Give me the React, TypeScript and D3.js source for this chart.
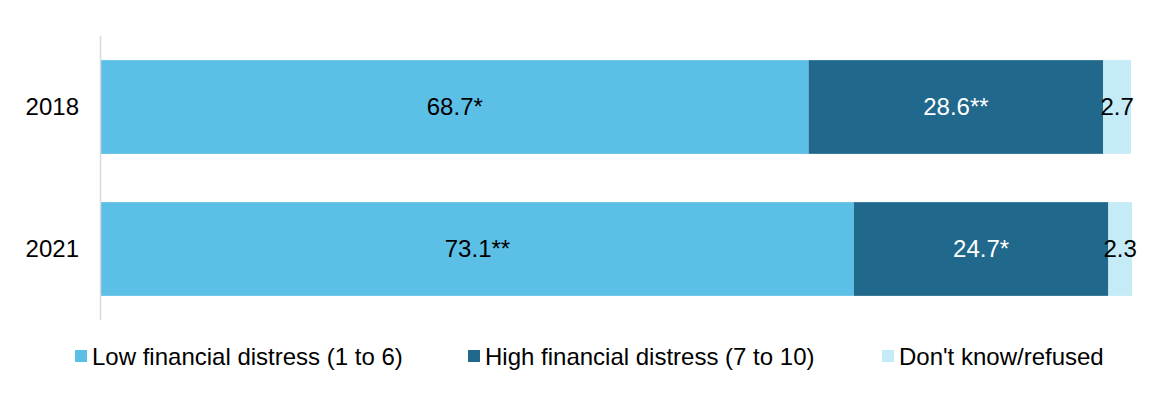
import { useEffect, useRef } from "react"
import * as d3 from "d3"

const years = ["2018", "2021"]
const seriesNames = ["Low financial distress (1 to 6)", "High financial distress (7 to 10)", "Don't know/refused"]
const lowValues = [68.7, 73.1]
const highValues = [28.6, 24.7]
const dkValues = [2.7, 2.3]
const lowLabels = ["68.7*", "73.1**"]
const highLabels = ["28.6**", "24.7*"]
const dkLabels = ["2.7", "2.3"]

const colors = ["#5bbfe6", "#20688c", "#c4ebf6"]
const labelColors = ["#000", "#fff", "#000"]

export default function App() {
  const svgRef = useRef<SVGSVGElement>(null)

  useEffect(() => {
    if (!svgRef.current) return
    const svg = d3.select(svgRef.current)
    svg.selectAll("*").remove()

    const font = "Liberation Sans, Arial, sans-serif"
    const fontSize = 24
    const x = d3.scaleLinear().domain([0, 100]).range([101, 1131])
    const y = d3.scaleBand().domain(years).range([36, 320]).paddingInner(0.34).paddingOuter(0.17)

    const series = [lowValues, highValues, dkValues]
    const labels = [lowLabels, highLabels, dkLabels]

    years.forEach((yr, i) => {
      let start = 0
      series.forEach((vals, s) => {
        const v = vals[i]
        const x0 = x(start)
        const x1 = x(start + v)
        svg.append("rect")
          .attr("x", x0)
          .attr("y", y(yr)!)
          .attr("width", x1 - x0)
          .attr("height", y.bandwidth())
          .attr("fill", colors[s])
        svg.append("text")
          .attr("x", (x0 + x1) / 2)
          .attr("y", y(yr)! + y.bandwidth() / 2)
          .attr("dy", "0.35em")
          .attr("text-anchor", "middle")
          .attr("font-family", font)
          .attr("font-size", fontSize)
          .attr("fill", labelColors[s])
          .text(labels[s][i])
        start += v
      })
      svg.append("text")
        .attr("x", 79)
        .attr("y", y(yr)! + y.bandwidth() / 2)
        .attr("dy", "0.35em")
        .attr("text-anchor", "end")
        .attr("font-family", font)
        .attr("font-size", fontSize)
        .attr("fill", "#000")
        .text(yr)
    })

    // axis line
    svg.append("line")
      .attr("x1", 100.5).attr("x2", 100.5)
      .attr("y1", 36).attr("y2", 320)
      .attr("stroke", "#d9d9d9")
      .attr("stroke-width", 1.5)

    // legend
    const legendX = [75, 468, 882]
    seriesNames.forEach((name, s) => {
      svg.append("rect")
        .attr("x", legendX[s]).attr("y", 350)
        .attr("width", 12).attr("height", 12)
        .attr("fill", colors[s])
      svg.append("text")
        .attr("x", legendX[s] + 17)
        .attr("y", 357)
        .attr("dy", "0.35em")
        .attr("font-family", font)
        .attr("font-size", fontSize)
        .attr("fill", "#000")
        .text(name)
    })
  }, [])

  return (
    <svg
      ref={svgRef}
      width={1151}
      height={403}
      style={{ position: "absolute", left: 0, top: 0, background: "#fff" }}
    />
  )
}
